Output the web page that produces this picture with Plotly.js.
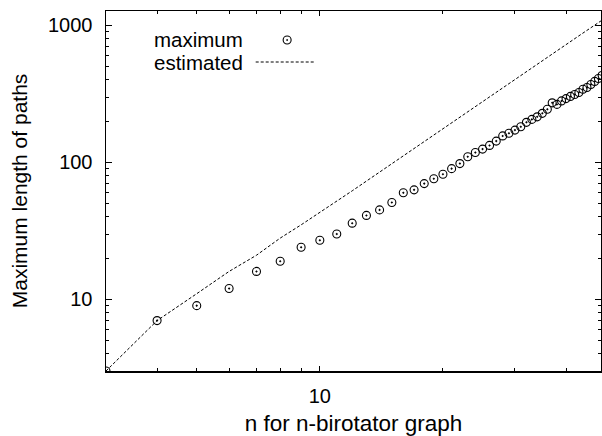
<!DOCTYPE html>
<html>
<head>
<meta charset="utf-8">
<script src="https://cdn.plot.ly/plotly-3.0.1.min.js"></script>
<style>html,body{margin:0;padding:0;background:#fff;}#chart{width:602px;height:436px;}</style>
</head>
<body>
<div id="chart"></div>
<script>
// n values (x axis)
const nValues = [3,4,5,6,7,8,9,10,11,12,13,14,15,16,17,18,19,20,21,22,23,24,25,26,27,28,29,30,31,32,33,34,35,36,37,38,39,40,41,42,43,44,45,46,47,48,49];
// maximum length of paths (points)
const maximumValues = [3,7,9,12,16,19,24,27,30,36,41,45,51,60,63,70,76,82,90,98,110,118,125,133,143,156,163,172,182,196,206,215,228,244,272,265,281,292,303,313,324,342,352,370,390,410,432];
// estimated length (dashed line)
const estimatedValues = [3,7,11,16,21,28,35,43,52,62,73,85,98,111,126,141,158,176,194,214,235,257,279,303,327,352,378,406,434,462,492,522,554,587,620,654,689,725,762,800,839,879,920,962,1004,1047,1092];
const xTickVals = [10];
const xTickText = ['10'];
const yTickVals = [10,100,1000];
const yTickText = ['10','100','1000'];

const fam = 'Liberation Sans, Arial, sans-serif';
const tickFont = {family: fam, size: 20, color: '#000'};
const legendFont = {family: fam, size: 20.5, color: '#000'};
const yTitleFont = {family: fam, size: 21, color: '#000'};
const xTitleFont = {family: fam, size: 22.5, color: '#000'};

const traces = [
  {x: nValues, y: estimatedValues, type: 'scatter', mode: 'lines', name: 'estimated',
   line: {color: '#000', width: 1, dash: '3px,2px'}, showlegend: false, hoverinfo: 'skip'},
  {x: nValues, y: maximumValues, type: 'scatter', mode: 'markers', name: 'maximum',
   marker: {symbol: 'circle-open-dot', size: 8, color: '#000', line: {color: '#000', width: 1.1}},
   showlegend: false}
];

const layout = {
  width: 602, height: 436,
  margin: {l: 106, r: 1, t: 11, b: 65},
  paper_bgcolor: '#fff', plot_bgcolor: '#fff',
  font: tickFont,
  showlegend: false,
  xaxis: {
    type: 'log', range: [Math.log10(3), Math.log10(48.7)],
    tickvals: xTickVals, ticktext: xTickText,
    ticks: 'inside', ticklen: 5, tickwidth: 1, tickcolor: '#000',
    ticklabelstandoff: 6,
    minor: {dtick: 'D1', ticks: 'inside', ticklen: 3, tickcolor: '#000', showgrid: false},
    showgrid: false, zeroline: false,
    showline: true, linecolor: '#000', linewidth: 1.5, mirror: 'ticks',
    tickfont: tickFont,
    title: {text: 'n for n-birotator graph', font: xTitleFont, standoff: 14}
  },
  yaxis: {
    type: 'log', range: [Math.log10(3), 3.105],
    tickvals: yTickVals, ticktext: yTickText,
    ticks: 'inside', ticklen: 6, tickwidth: 1, tickcolor: '#000',
    ticklabelstandoff: 8,
    minor: {dtick: 'D1', ticks: 'inside', ticklen: 3, tickcolor: '#000', showgrid: false},
    showgrid: false, zeroline: false,
    showline: true, linecolor: '#000', linewidth: 1.5, mirror: 'ticks',
    tickfont: tickFont,
    title: {text: 'Maximum length of paths', font: yTitleFont, standoff: 14}
  },
  annotations: [
    {xref: 'paper', yref: 'paper', x: (244 - 106) / 496, y: (371 - 39.5) / 360, xanchor: 'right', yanchor: 'middle',
     text: 'maximum', showarrow: false, font: legendFont, borderpad: 0},
    {xref: 'paper', yref: 'paper', x: (244 - 106) / 496, y: (371 - 62) / 360, xanchor: 'right', yanchor: 'middle',
     text: 'estimated', showarrow: false, font: legendFont, borderpad: 0}
  ],
  shapes: [
    {type: 'circle', xref: 'paper', yref: 'paper',
     x0: (283.5 - 106) / 496, x1: (291.5 - 106) / 496, y0: (371 - 44) / 360, y1: (371 - 36) / 360,
     line: {color: '#000', width: 1.1}},
    {type: 'circle', xref: 'paper', yref: 'paper',
     x0: (287 - 106) / 496, x1: (288 - 106) / 496, y0: (371 - 40.5) / 360, y1: (371 - 39.5) / 360,
     line: {color: '#000', width: 1}, fillcolor: '#000'},
    {type: 'line', xref: 'paper', yref: 'paper',
     x0: (256 - 106) / 496, x1: (315 - 106) / 496, y0: (371 - 62) / 360, y1: (371 - 62) / 360,
     line: {color: '#000', width: 1, dash: '3px,2px'}}
  ]
};

Plotly.newPlot('chart', traces, layout, {staticPlot: true, displayModeBar: false});
</script>
</body>
</html>
